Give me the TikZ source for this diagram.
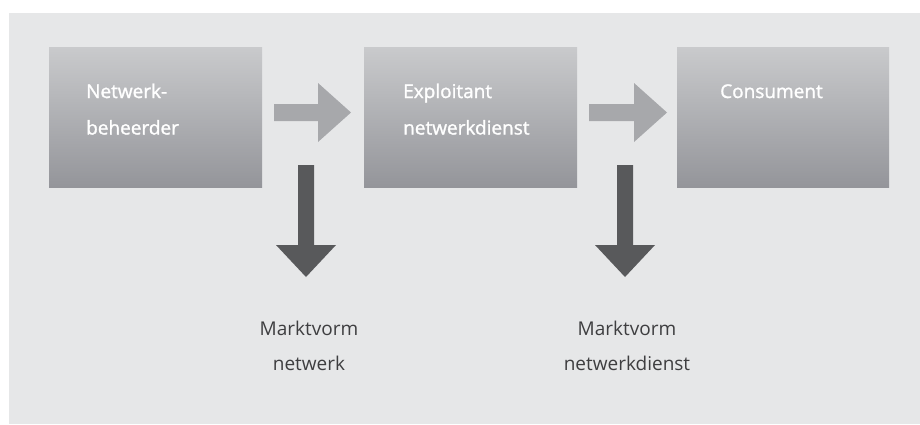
\documentclass[tikz,border=0pt]{standalone}
\usepackage{fontspec}
\setmainfont{Open Sans}
\newfontfamily\stagefont{Open Sans}[FakeBold=1.4]
\definecolor{panel}{HTML}{E6E7E8}
\definecolor{boxtop}{HTML}{C9CACC}
\definecolor{boxbot}{HTML}{94959A}
\definecolor{flowgray}{HTML}{A7A8AB}
\definecolor{dropgray}{HTML}{58595B}
\definecolor{labelgray}{HTML}{3E3E40}
\tikzset{
  stage/.style={draw=none, inner sep=0pt, minimum width=213pt, minimum height=140pt,
    anchor=north west, top color=boxtop, bottom color=boxbot},
  stagetext/.style={anchor=base west, inner sep=0pt, text=white, font=\stagefont\fontsize{19}{19}\selectfont},
  marktext/.style={anchor=base, inner sep=0pt, text=labelgray, font=\fontsize{19}{19}\selectfont},
  flow/.style={fill=flowgray, draw=none},
  drop/.style={fill=dropgray, draw=none},
}
\begin{document}
\begin{tikzpicture}[x=1pt, y=-1pt]
  \useasboundingbox (0,0) rectangle (920,424);
  % light panel
  \fill[panel] (9,13) rectangle (920,424);

  % the three stages
  \node[stage] (b1) at (49,47) {};
  \node[stage] (b2) at (364,47) {};
  \node[stage, minimum width=212pt] (b3) at (677,47) {};

  \node[stagetext] (t1a) at (86,98) {Netwerk-};
  \node[stagetext] (t1b) at (86,134.5) {beheerder};
  \node[stagetext] (t2a) at (403,98) {Exploitant};
  \node[stagetext] (t2b) at (403,134.5) {netwerkdienst};
  \node[stagetext] (t3a) at (720,98) {Consument};

  % horizontal flow arrows between the stages
  \coordinate (f1) at (274,112.5);
  \coordinate (f2) at (589,112.5);
  \foreach \c/\len in {f1/44, f2/45} {
    \fill[flow] (\c) ++(0,-8.5) -- ++(\len,0) -- ++(0,-21) -- ++(33,29.5)
      -- ++(-33,29.5) -- ++(0,-21) -- ++(-\len,0) -- cycle;
  }

  % downward arrows to the market forms
  \coordinate (d1) at (306,165);
  \coordinate (d2) at (625,165);
  \foreach \c in {d1, d2} {
    \fill[drop] (\c) ++(-8,0) -- ++(16,0) -- ++(0,80) -- ++(22,0) -- ++(-30,32)
      -- ++(-30,-32) -- ++(22,0) -- cycle;
  }

  % market form labels
  \node[marktext] (m1a) at (309,335) {Marktvorm};
  \node[marktext] (m1b) at (309,370) {netwerk};
  \node[marktext] (m2a) at (627,335) {Marktvorm};
  \node[marktext] (m2b) at (627,370) {netwerkdienst};
\end{tikzpicture}
\end{document}
